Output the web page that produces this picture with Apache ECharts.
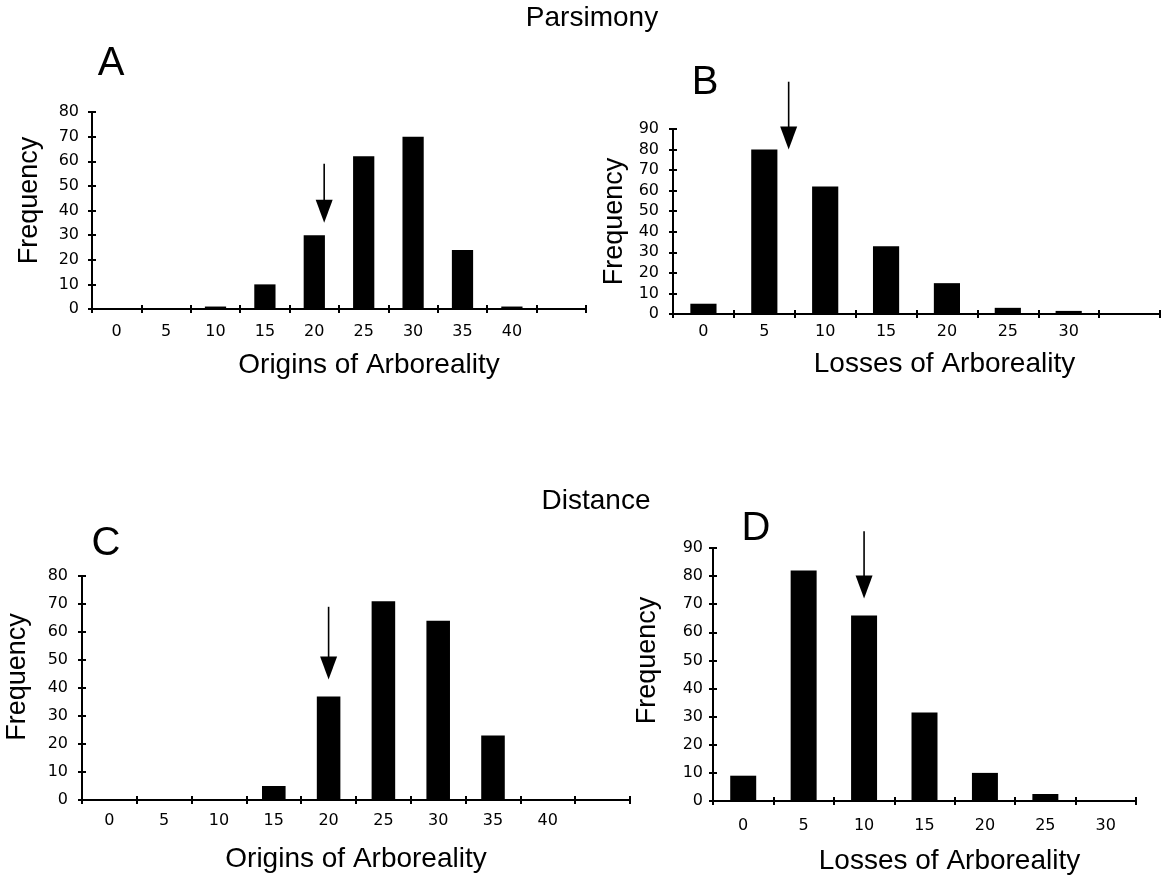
<!DOCTYPE html>
<html>
<head>
<meta charset="utf-8">
<title>Origins and losses of arboreality</title>
<script src="https://cdn.jsdelivr.net/npm/echarts@6/dist/echarts.min.js"></script>
<style>
html, body { margin: 0; padding: 0; background: #fff; }
#chart { width: 1167px; height: 880px; }
</style>
</head>
<body>
<div id="chart"></div>
<script>
// bin labels (last bin of some panels is an empty spare)
const originBins = ['0', '5', '10', '15', '20', '25', '30', '35', '40', ''];
const lossBins = ['0', '5', '10', '15', '20', '25', '30', ''];
const lossBinsShort = ['0', '5', '10', '15', '20', '25', '30'];

// frequencies
const parsimonyOrigins = [0, 0, 1, 10, 30, 62, 70, 24, 1, 0];
const parsimonyLosses = [5, 80, 62, 33, 15, 3, 1.5, 0];
const distanceOrigins = [0, 0, 0, 5, 37, 71, 64, 23, 0, 0];
const distanceLosses = [9, 82, 66, 31.5, 10, 2.5, 0];

// observed number (arrow position) and the frequency span of each arrow
const observed = [21, 7, 20, 10];
const arrowFrom = [59, 113, 69, 96];
const arrowTo = [35, 80, 43, 72];

const freqMax = [80, 90, 80, 90];

const panels = [
  { bins: originBins, values: parsimonyOrigins, name: 'Origins of Arboreality',
    grid: { left: 92, top: 112, width: 494, height: 197 },
    xMargin: 15, yMargin: 13, nameGap: 42, nameShift: 60, yNameGap: 49, yNameShift: 20 },
  { bins: lossBins, values: parsimonyLosses, name: 'Losses of Arboreality',
    grid: { left: 673, top: 129, width: 487, height: 185 },
    xMargin: 10, yMargin: 14, nameGap: 36, nameShift: 56, yNameGap: 45, yNameShift: 0 },
  { bins: originBins, values: distanceOrigins, name: 'Origins of Arboreality',
    grid: { left: 82, top: 576, width: 548, height: 224 },
    xMargin: 13, yMargin: 14, nameGap: 45, nameShift: 0, yNameGap: 51, yNameShift: 22 },
  { bins: lossBinsShort, values: distanceLosses, name: 'Losses of Arboreality',
    grid: { left: 713, top: 548, width: 423, height: 253 },
    xMargin: 17, yMargin: 10, nameGap: 46, nameShift: 50, yNameGap: 52, yNameShift: 28 }
];

const tickFont = 'DejaVu Sans';
const textFont = 'Liberation Sans';

function renderArrow(params, api) {
  const start = api.coord([api.value(0), api.value(1)]);
  const tip = api.coord([api.value(0), api.value(2)]);
  const headLen = 23, headHalf = 8.5;
  return {
    type: 'group',
    children: [
      { type: 'line', shape: { x1: start[0], y1: start[1], x2: tip[0], y2: tip[1] - headLen + 2 },
        style: { stroke: '#000', lineWidth: 1.6 } },
      { type: 'polygon',
        shape: { points: [[tip[0] - headHalf, tip[1] - headLen], [tip[0] + headHalf, tip[1] - headLen], [tip[0], tip[1]]] },
        style: { fill: '#000' } }
    ]
  };
}

const grids = [], xAxes = [], yAxes = [], series = [];
const innerX = [], hiddenX = [], innerY = [];

panels.forEach((p, i) => {
  grids.push(Object.assign({ containLabel: false }, p.grid));
  xAxes.push({
    type: 'category', gridIndex: i, position: 'bottom', data: p.bins,
    axisLine: { onZero: false, lineStyle: { color: '#000', width: 2 } },
    axisTick: { show: true, length: 4, lineStyle: { color: '#000', width: 2 } },
    axisLabel: { interval: 0, margin: p.xMargin, color: '#000', fontSize: 16, fontFamily: tickFont },
    name: p.name, nameLocation: 'middle', nameGap: p.nameGap,
    nameTextStyle: { color: '#000', fontSize: 28, fontFamily: textFont, padding: [0, 0, 0, p.nameShift] }
  });
  innerX.push({
    type: 'category', gridIndex: i, position: 'bottom', data: p.bins,
    axisLine: { show: false, onZero: false },
    axisTick: { show: true, inside: true, length: 4, lineStyle: { color: '#000', width: 2 } },
    axisLabel: { show: false }
  });
  hiddenX.push({
    type: 'value', gridIndex: i, position: 'top', show: false,
    min: -2.5, max: p.bins.length * 5 - 2.5
  });
  yAxes.push({
    type: 'value', gridIndex: i, position: 'left', min: 0, max: freqMax[i], interval: 10,
    axisLine: { show: true, onZero: false, lineStyle: { color: '#000', width: 2 } },
    axisTick: { show: true, length: 4, lineStyle: { color: '#000', width: 2 } },
    axisLabel: { margin: p.yMargin, color: '#000', fontSize: 16, fontFamily: tickFont },
    splitLine: { show: false },
    name: 'Frequency', nameLocation: 'middle', nameGap: p.yNameGap,
    nameTextStyle: { color: '#000', fontSize: 27, fontFamily: textFont, padding: [0, 0, 0, p.yNameShift] }
  });
  innerY.push({
    type: 'value', gridIndex: i, position: 'left', min: 0, max: freqMax[i], interval: 10,
    axisLine: { show: false, onZero: false },
    axisTick: { show: true, inside: true, length: 4, lineStyle: { color: '#000', width: 2 } },
    axisLabel: { show: false },
    splitLine: { show: false }
  });
  series.push({
    type: 'bar', xAxisIndex: i, yAxisIndex: i, data: p.values,
    barWidth: '43%', itemStyle: { color: '#000' }, silent: true
  });
  series.push({
    type: 'custom', xAxisIndex: 8 + i, yAxisIndex: i, clip: false, silent: true, z: 5,
    data: [[observed[i], arrowFrom[i], arrowTo[i]]],
    encode: { x: 0, y: [1, 2] },
    renderItem: renderArrow
  });
});

function label(text, x, y, size) {
  return { type: 'text', x: x, y: y,
    style: { text: text, font: size + 'px "' + textFont + '"', fill: '#000', align: 'center', verticalAlign: 'middle' } };
}

const chart = echarts.init(document.getElementById('chart'));
chart.setOption({
  backgroundColor: '#fff',
  animation: false,
  grid: grids,
  xAxis: xAxes.concat(innerX, hiddenX),
  yAxis: yAxes.concat(innerY),
  series: series,
  graphic: [
    label('Parsimony', 592, 18, 28),
    label('Distance', 596, 501, 28),
    label('A', 111, 64, 40),
    label('B', 705, 83, 40),
    label('C', 106, 544, 40),
    label('D', 756, 529, 40)
  ]
});
</script>
</body>
</html>
